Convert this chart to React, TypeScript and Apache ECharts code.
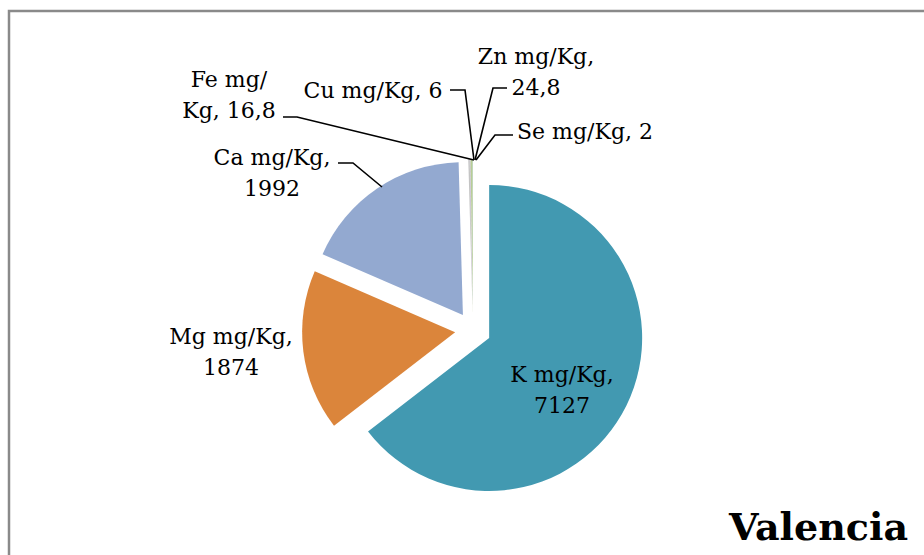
import React, { useEffect, useRef } from "react";
import * as echarts from "echarts";

const categories = ["K mg/Kg", "Mg mg/Kg", "Ca mg/Kg", "Fe mg/Kg", "Cu mg/Kg", "Zn mg/Kg", "Se mg/Kg"];
const values = [7127, 1874, 1992, 16.8, 6, 24.8, 2];
const colors = ["#4299B1", "#DB853B", "#93A9D0", "#C4C4C4", "#A99BBD", "#B9CD96", "#8CC5D6"];
// how each label wraps: "comma" -> break after comma, "slash" -> break after slash, "none"
const wraps = ["comma", "comma", "comma", "slash", "none", "comma", "none"];
const leaderShown = [false, false, true, true, true, true, true];
const title = "Valencia";

// label layout (centers of the label blocks and leader line points)
const labelCenters: number[][] = [
  [562, 390],
  [231, 352],
  [272, 173],
  [229, 95],
  [373, 90],
  [536, 72],
  [585, 131],
];
const leaderPoints: (number[][] | null)[] = [
  null,
  null,
  [[382, 187], [353, 163], [338, 163]],
  [[474, 160], [297, 117], [283, 117]],
  [[474, 160], [465, 90], [450, 90]],
  [[475, 160], [493, 88], [507, 88]],
  [[476, 160], [495, 135], [513, 135]],
];

function fmtValue(v: number): string {
  return String(v).replace(".", ",");
}
function labelText(i: number): string {
  const name = categories[i];
  const v = fmtValue(values[i]);
  if (wraps[i] === "comma") return name + ",\n" + v;
  if (wraps[i] === "slash") {
    const k = name.indexOf("/");
    return name.slice(0, k + 1) + "\n" + name.slice(k + 1) + ", " + v;
  }
  return name + ", " + v;
}

export default function App() {
  const ref = useRef<HTMLDivElement>(null);
  useEffect(() => {
    if (!ref.current) return;
    const chart = echarts.init(ref.current, null, { renderer: "svg" });
    const center = [473, 330];
    const radius = 153;
    chart.setOption({
      animation: false,
      backgroundColor: "#ffffff",
      graphic: [
        {
          type: "rect",
          shape: { x: 9, y: 11, width: 1000, height: 1000 },
          style: { fill: "none", stroke: "#8a8a8a", lineWidth: 2.5 },
          silent: true,
          z: -1,
        },
      ],
      title: {
        text: title,
        left: 724,
        top: 502,
        textStyle: {
          fontFamily: "DejaVu Serif",
          fontWeight: "bold",
          fontSize: 38,
          color: "#000",
        },
      },
      series: [
        {
          type: "pie",
          z: 1,
          center,
          radius,
          startAngle: 90,
          clockwise: true,
          selectedMode: "multiple",
          selectedOffset: 18,
          avoidLabelOverlap: false,
          silent: true,
          label: { show: false },
          labelLine: { show: false },
          itemStyle: { borderWidth: 0 },
          data: categories.map((c, i) => ({
            name: c,
            value: values[i],
            selected: true,
            itemStyle: { color: colors[i] },
          })),
        },
        {
          type: "pie",
          z: 5,
          center,
          radius,
          startAngle: 90,
          clockwise: true,
          avoidLabelOverlap: false,
          silent: true,
          itemStyle: { color: "rgba(0,0,0,0)", borderWidth: 0 },
          label: {
            show: true,
            position: "outside",
            color: "#000",
            fontFamily: "DejaVu Serif",
            fontSize: 22,
            lineHeight: 31,
            align: "center",
            formatter: (p: any) => labelText(p.dataIndex),
          },
          labelLine: {
            show: true,
            lineStyle: { color: "#000", width: 1.6 },
          },
          labelLayout: (p: any) => {
            const i = p.dataIndex;
            const o: any = {
              x: labelCenters[i][0],
              y: labelCenters[i][1],
              align: "center",
              verticalAlign: "middle",
            };
            if (leaderPoints[i]) o.labelLinePoints = leaderPoints[i];
            return o;
          },
          data: categories.map((c, i) => ({
            name: c,
            value: values[i],
            labelLine: { show: leaderShown[i] },
          })),
        },
      ],
    });
    return () => chart.dispose();
  }, []);
  return (
    <div
      ref={ref}
      style={{ position: "fixed", left: 0, top: 0, width: 924, height: 555 }}
    />
  );
}
